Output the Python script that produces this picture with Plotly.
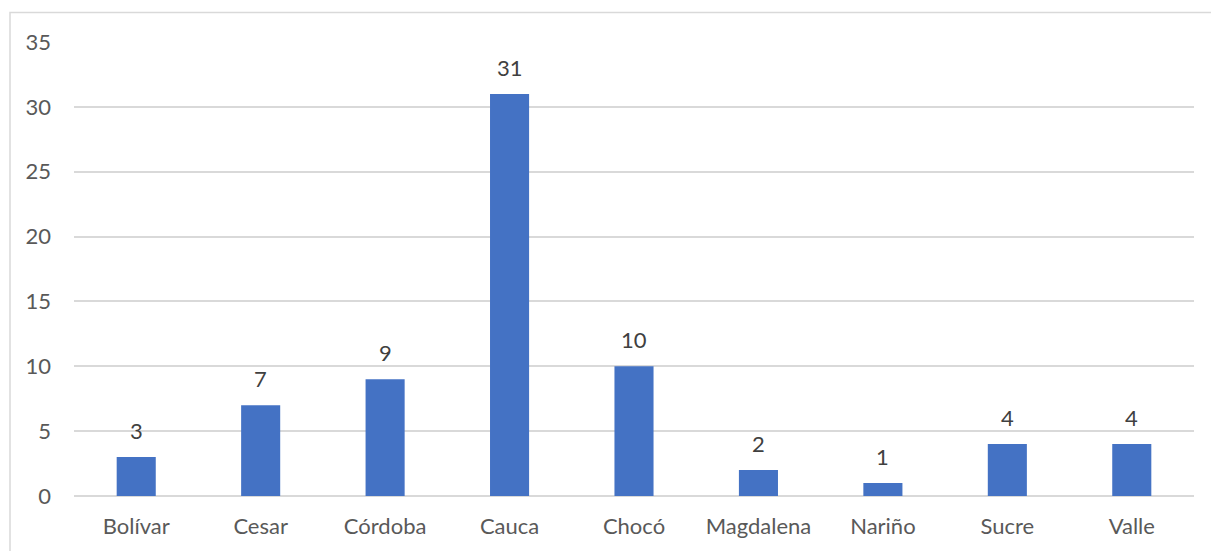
import plotly.graph_objects as go

departamentos = ["Bolívar", "Cesar", "Córdoba", "Cauca", "Chocó",
                 "Magdalena", "Nariño", "Sucre", "Valle"]
casos = [3, 7, 9, 31, 10, 2, 1, 4, 4]
y_ticks = [0, 5, 10, 15, 20, 25, 30, 35]

W, H = 1211, 551
ML, MR, MT, MB = 74, 17, 42, 55
FONT = "Lato, Liberation Sans, Arial, sans-serif"
FSIZE = 22

fig = go.Figure(
    go.Bar(
        x=departamentos,
        y=casos,
        marker=dict(color="#4472C4", line=dict(width=0)),
        hoverinfo="x+y",
    )
)

# value labels above each bar
for d, v in zip(departamentos, casos):
    fig.add_annotation(
        x=d, y=v, text=str(v), showarrow=False,
        yanchor="bottom", yshift=11,
        font=dict(family=FONT, size=FSIZE, color="#404040"),
    )

# light frame around the chart area
pw, ph = W - ML - MR, H - MT - MB
fig.add_shape(
    type="rect", xref="paper", yref="paper",
    x0=(10 - ML) / pw, x1=(W + 5 - ML) / pw,
    y0=-(H + 5 - (H - MB)) / ph, y1=1 + (MT - 12.5) / ph,
    line=dict(color="#d9d9d9", width=1.5), fillcolor="rgba(0,0,0,0)",
    layer="below",
)

fig.update_layout(
    width=W, height=H,
    margin=dict(l=ML, r=MR, t=MT, b=MB),
    paper_bgcolor="white", plot_bgcolor="white",
    bargap=0.686,
    showlegend=False,
    font=dict(family=FONT, size=FSIZE, color="#595959"),
    xaxis=dict(
        showgrid=False, showline=False, zeroline=False,
        ticks="", ticklabelstandoff=15,
        tickfont=dict(family=FONT, size=FSIZE, color="#595959"),
    ),
    yaxis=dict(
        range=[0, 35], tickvals=y_ticks,
        showgrid=True, gridcolor="#d9d9d9", gridwidth=1.5,
        zeroline=True, zerolinecolor="#d9d9d9", zerolinewidth=1.5,
        showline=False, ticks="", ticklabelstandoff=22,
        tickfont=dict(family=FONT, size=FSIZE, color="#595959"),
    ),
)

fig.write_html("out.html")
